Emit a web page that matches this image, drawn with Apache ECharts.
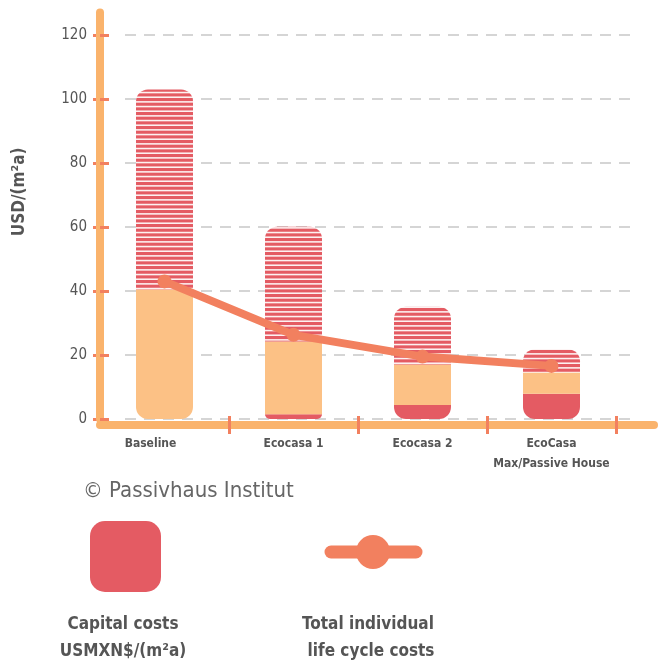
<!DOCTYPE html>
<html><head><meta charset="utf-8">
<script src="https://cdn.jsdelivr.net/npm/echarts@6/dist/echarts.min.js"></script>
<style>html,body{margin:0;padding:0;background:#fff}#c{width:658px;height:666px}</style>
</head><body><div id="c"></div>
<script>
// ---- data ----
const categories = ['Baseline', 'Ecocasa 1', 'Ecocasa 2', 'EcoCasa\nMax/Passive House'];
const capitalCosts = [0, 1.5, 4.4, 7.9];
const operatingCosts = [40.5, 22.7, 12.6, 6.6];
const otherCosts = [62.5, 35.9, 18.1, 7.3];
const lifeCycleCosts = [43, 26.3, 19.5, 16.6];
const yTicks = [0, 20, 40, 60, 80, 100, 120];

// ---- styles ----
const FONT = '"Liberation Sans Narrow","DejaVu Sans Condensed","Roboto Condensed",Roboto,sans-serif';
const RED = '#E45B63', PEACH = '#FCC185', AXIS = '#FAB36C', ACC = '#F2805F', TXT = '#555';
const R = 12;

function stripePattern() {
  const c = document.createElement('canvas');
  c.width = 8; c.height = 14;
  const g = c.getContext('2d');
  g.fillStyle = '#fdf1f1'; g.fillRect(0, 0, 8, 14);
  g.fillStyle = RED;
  for (let i = 0; i < 3; i++) g.fillRect(0, i * 14 / 3, 8, 3.1);
  return c;
}
const stripes = { image: stripePattern(), repeat: 'repeat' };
const skipFirstTick = i => i !== 0;

const chart = echarts.init(document.getElementById('c'), null, { renderer: 'canvas' });
chart.setOption({
  animation: false,
  backgroundColor: '#fff',
  title: {
    text: '© Passivhaus Institut', left: 78, top: 475,
    textStyle: { fontSize: 22, fontWeight: 'normal', color: '#666', fontFamily: FONT }
  },
  grid: [
    { left: 100, right: 42, top: 12.6, bottom: 247 },
    { left: 125, right: 25, top: 35, bottom: 247 }
  ],
  xAxis: [
    {
      gridIndex: 0, type: 'category', data: categories, position: 'bottom', offset: 6, z: 1,
      axisLine: { onZero: false, lineStyle: { color: AXIS, width: 8, cap: 'round' } },
      axisTick: { show: true, interval: skipFirstTick, length: 9, lineStyle: { color: ACC, width: 3 } },
      axisLabel: {
        interval: 0, margin: 9, fontSize: 12, fontWeight: 'bold', color: TXT, fontFamily: FONT, lineHeight: 20,
        formatter: v => v === categories[0] ? '{s|' + v + '}' : v,
        rich: { s: { padding: [0, 28, 0, 0], fontSize: 12, fontWeight: 'bold', color: TXT, fontFamily: FONT } }
      },
      splitLine: { show: false }
    },
    {
      gridIndex: 0, type: 'category', data: categories, position: 'bottom', offset: 6, z: 1,
      axisLine: { show: false, onZero: false },
      axisTick: { show: true, interval: skipFirstTick, inside: true, length: 9, lineStyle: { color: ACC, width: 3 } },
      axisLabel: { show: false, interval: 0 }, splitLine: { show: false }
    },
    { gridIndex: 1, type: 'value', show: false }
  ],
  yAxis: [
    {
      gridIndex: 0, type: 'value', min: 0, max: 127, position: 'left', z: 3,
      axisLine: { show: true, lineStyle: { color: AXIS, width: 8, cap: 'round' } },
      axisTick: { show: true, customValues: yTicks, inside: true, length: 9, lineStyle: { color: ACC, width: 3 } },
      axisLabel: { customValues: yTicks, margin: 13, fontSize: 15, color: TXT, fontFamily: FONT },
      splitLine: { show: false },
      name: 'USD/(m²a)', nameLocation: 'middle', nameGap: 72,
      nameTextStyle: { fontSize: 17, fontWeight: 'bold', color: TXT, fontFamily: FONT, padding: [0, 0, 0, 48] }
    },
    {
      gridIndex: 0, type: 'value', min: 0, max: 127, position: 'left', z: 2,
      axisLine: { show: false },
      axisTick: { show: true, customValues: yTicks, length: 7, lineStyle: { color: ACC, width: 3 } },
      axisLabel: { show: false }, splitLine: { show: false }
    },
    {
      gridIndex: 1, type: 'value', min: 0, max: 120, interval: 20,
      axisLine: { show: false }, axisTick: { show: false }, axisLabel: { show: false },
      splitLine: { show: true, lineStyle: { color: '#c8c8c8', width: 1.5, type: [11, 8] } }
    }
  ],
  series: [
    {
      name: 'Capital costs', type: 'bar', stack: 'total', xAxisIndex: 0, yAxisIndex: 0, barWidth: 57,
      itemStyle: { color: RED },
      data: capitalCosts.map(v => ({ value: v, itemStyle: { borderRadius: [0, 0, R, R] } }))
    },
    {
      name: 'Operating costs', type: 'bar', stack: 'total', xAxisIndex: 0, yAxisIndex: 0, barWidth: 57,
      itemStyle: { color: PEACH },
      data: operatingCosts.map((v, i) => ({ value: v, itemStyle: { borderRadius: capitalCosts[i] === 0 ? [0, 0, R, R] : 0 } }))
    },
    {
      name: 'Other costs', type: 'bar', stack: 'total', xAxisIndex: 0, yAxisIndex: 0, barWidth: 57,
      itemStyle: { color: stripes, borderRadius: [R, R, 0, 0] },
      data: otherCosts
    },
    {
      name: 'Total individual life cycle costs', type: 'line', xAxisIndex: 0, yAxisIndex: 0, z: 5,
      data: lifeCycleCosts, symbol: 'circle', symbolSize: 14,
      lineStyle: { color: ACC, width: 8, cap: 'round' }, itemStyle: { color: ACC }
    }
  ],
  graphic: [
    { type: 'line', z: 0, shape: { x1: 610, y1: 425, x2: 654, y2: 425 }, style: { stroke: AXIS, lineWidth: 8, lineCap: 'round' } },
    { type: 'rect', shape: { x: 90, y: 521, width: 71, height: 71, r: 15 }, style: { fill: RED } },
    { type: 'line', shape: { x1: 331, y1: 552, x2: 416, y2: 552 }, style: { stroke: ACC, lineWidth: 13, lineCap: 'round' } },
    { type: 'circle', shape: { cx: 373, cy: 552, r: 17 }, style: { fill: ACC } },
    { type: 'text', x: 123, y: 625, style: { text: 'Capital costs', fill: TXT, font: 'bold 17px ' + FONT, textAlign: 'center', textVerticalAlign: 'middle' } },
    { type: 'text', x: 123, y: 652, style: { text: 'USMXN$/(m²a)', fill: TXT, font: 'bold 17px ' + FONT, textAlign: 'center', textVerticalAlign: 'middle' } },
    { type: 'text', x: 368, y: 625, style: { text: 'Total individual', fill: TXT, font: 'bold 17px ' + FONT, textAlign: 'center', textVerticalAlign: 'middle' } },
    { type: 'text', x: 371, y: 652, style: { text: 'life cycle costs', fill: TXT, font: 'bold 17px ' + FONT, textAlign: 'center', textVerticalAlign: 'middle' } }
  ]
});
</script>
</body></html>
